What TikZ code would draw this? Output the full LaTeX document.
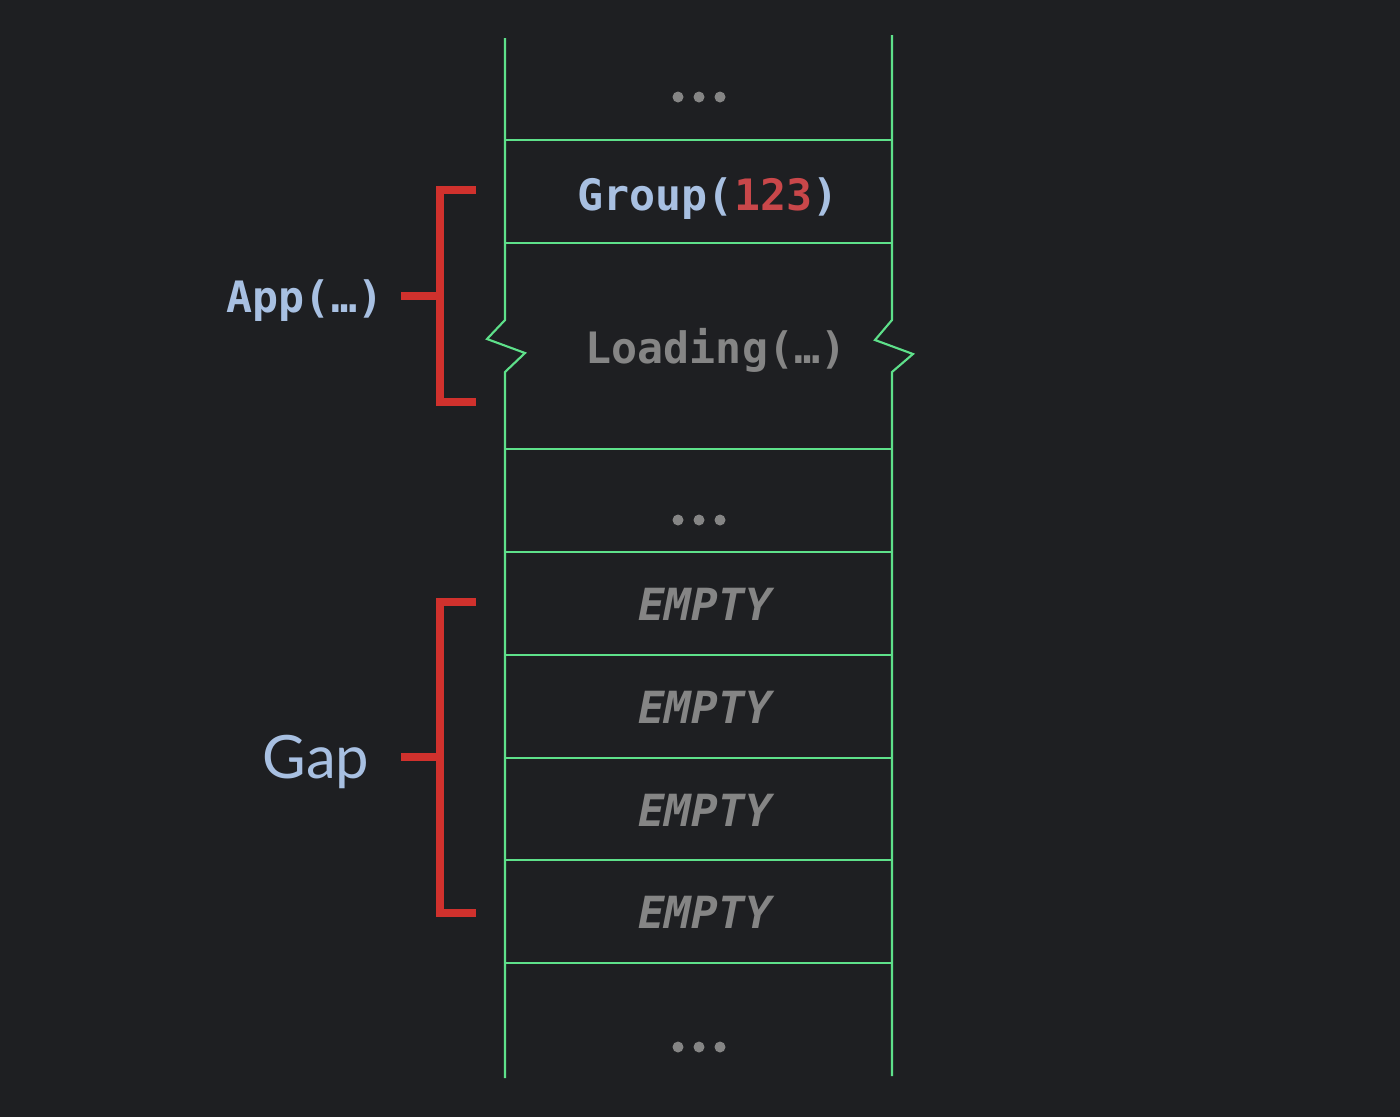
\documentclass[tikz,border=0pt]{standalone}
\usepackage{fontspec}
\setmonofont{DejaVu Sans Mono}
\newfontfamily\gapfont{Lato}
\definecolor{bg}{HTML}{1E1F22}
\definecolor{slotline}{HTML}{5EE08A}
\definecolor{brace}{HTML}{D0312D}
\definecolor{keyblue}{HTML}{A8C0E2}
\definecolor{numred}{HTML}{C9474A}
\definecolor{dimgray}{HTML}{858585}
\tikzset{
  slot/.style={draw=slotline,line width=0.6pt},
  bracket/.style={draw=brace,line width=2.3pt,line join=miter},
  code/.style={font=\ttfamily\bfseries\fontsize{12.3}{14}\selectfont,anchor=base},
  emptyslot/.style={font=\ttfamily\bfseries\itshape\fontsize{12.6}{14}\selectfont,anchor=base,text=dimgray},
}
\begin{document}
\begin{tikzpicture}[x=0.01cm,y=-0.01cm]
\fill[bg] (0,0) rectangle (1400,1117);
\useasboundingbox (0,0) rectangle (1400,1117);
% slot table
\draw[slot] (505,38) -- (505,320) -- (487,339) -- (525,353) -- (505,372) -- (505,1078);
\draw[slot] (892,35) -- (892,320) -- (875,340) -- (913,354) -- (892,372) -- (892,1076);
\foreach \y in {140,243,449,552,655,758,860,963}
  \draw[slot] (505,\y) -- (892,\y);
\foreach \y in {97,520,1047}
  \foreach \x in {678,699,720}
    \fill[dimgray] (\x,\y) circle (5.5);
\node[code,text=keyblue] (group) at (708,210) {Group(\textcolor{numred}{123})};
\node[code,text=dimgray] (loading) at (716,363) {Loading(…)};
\foreach \y/\n in {620/1,723/2,826/3,928/4}
  \node[emptyslot] (empty\n) at (705,\y) {EMPTY};
% brackets
\node[code,text=keyblue] (app) at (305,312) {App(…)};
\draw[bracket] (476,190) -- (440,190) -- (440,402) -- (476,402);
\draw[bracket] (401,296) -- (440,296);
\node[font=\gapfont\fontsize{17}{20}\selectfont,text=keyblue,anchor=base] (gap) at (316,778) {Gap};
\draw[bracket] (476,602) -- (440,602) -- (440,913) -- (476,913);
\draw[bracket] (401,757) -- (440,757);
\end{tikzpicture}
\end{document}
